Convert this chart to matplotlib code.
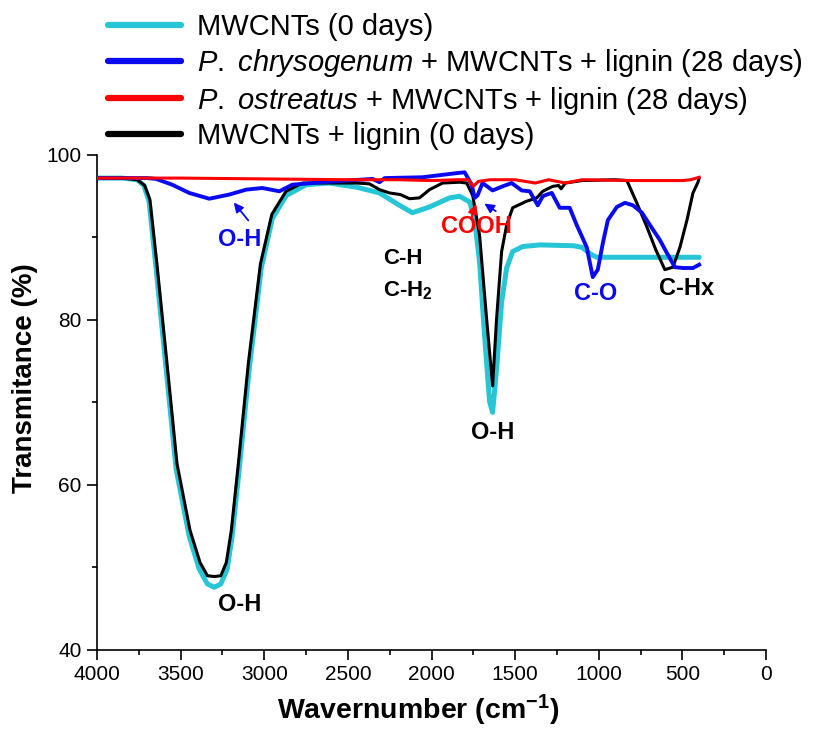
import matplotlib
matplotlib.use("Agg")
import matplotlib.pyplot as plt
from matplotlib.lines import Line2D
from matplotlib.ticker import MultipleLocator

plt.rcParams['font.family'] = ['Liberation Sans', 'DejaVu Sans']
plt.rcParams['mathtext.fontset'] = 'custom'
plt.rcParams['mathtext.rm'] = 'Liberation Sans'
plt.rcParams['mathtext.it'] = 'Liberation Sans:italic'
plt.rcParams['mathtext.bf'] = 'Liberation Sans:bold'

# ---------------- data ----------------
cyan_w = [4000, 3850, 3760, 3720, 3689, 3647, 3587, 3527, 3449, 3389, 3340, 3299, 3260, 3222,
          3192, 3150, 3090, 3018, 2952, 2868, 2749, 2611, 2449, 2311, 2192, 2114, 2012, 1892,
          1832, 1772, 1743, 1713, 1683, 1653, 1635, 1611, 1581, 1551, 1515, 1455, 1353, 1150,
          1100, 1050, 1012, 400]
cyan_t = [97.2, 97.2, 97.0, 96.3, 94.4, 86.3, 74.1, 61.9, 53.8, 49.8, 48.0, 47.6, 48.0, 49.8,
          53.8, 61.9, 74.1, 86.3, 92.3, 95.1, 96.4, 96.6, 96.1, 95.4, 93.9, 93.0, 93.7, 94.8,
          95.0, 94.3, 92.3, 87.1, 78.1, 70.1, 68.8, 74.1, 82.2, 86.3, 88.3, 88.9, 89.1, 89.0,
          88.8, 88.0, 87.6, 87.6]

black_w = [4000, 3850, 3760, 3715, 3684, 3642, 3582, 3522, 3444, 3384, 3340, 3299, 3260, 3227,
           3197, 3155, 3095, 3023, 2955, 2870, 2772, 2652, 2449, 2371, 2311, 2252, 2186, 2132,
           2072, 2012, 1934, 1832, 1790, 1754, 1713, 1671, 1635, 1611, 1581, 1551, 1515, 1431,
           1371, 1335, 1275, 1240, 1225, 1200, 1100, 900, 832, 773, 713, 659, 605, 557, 515,
           473, 437, 407, 400]
black_t = [97.2, 97.2, 97.0, 96.3, 94.6, 86.8, 74.8, 62.6, 54.5, 50.6, 49.0, 48.9, 49.0, 50.6,
           54.5, 62.6, 74.8, 86.8, 92.8, 95.6, 96.6, 96.6, 96.6, 96.5, 95.8, 95.4, 95.2, 94.7,
           94.8, 95.8, 96.6, 96.7, 96.6, 95.1, 90.3, 80.2, 72.0, 80.2, 88.3, 91.5, 93.6, 94.4,
           94.8, 95.6, 96.2, 96.3, 95.9, 96.6, 96.9, 97.0, 96.9, 94.2, 91.3, 88.5, 86.1, 86.4,
           88.8, 92.1, 95.4, 96.7, 97.2]

blue_w = [4000, 3700, 3647, 3551, 3449, 3329, 3210, 3108, 3012, 2910, 2832, 2652, 2353, 2311,
          2280, 2054, 1850, 1802, 1760, 1742, 1725, 1695, 1635, 1575, 1521, 1461, 1413, 1365,
          1335, 1311, 1281, 1234, 1174, 1132, 1096, 1072, 1036, 1006, 976, 946, 892, 844, 796,
          742, 694, 635, 587, 545, 497, 437, 400]
blue_t = [97.2, 97.2, 97.1, 96.4, 95.4, 94.7, 95.2, 95.8, 96.0, 95.6, 96.4, 96.7, 97.1, 96.7,
          97.2, 97.3, 97.8, 97.9, 96.4, 94.8, 95.1, 96.6, 95.7, 96.2, 96.6, 95.7, 95.6, 93.9,
          95.0, 95.2, 95.4, 93.6, 93.6, 91.5, 89.9, 88.8, 85.2, 86.1, 89.3, 92.1, 93.7, 94.2,
          93.9, 93.0, 91.5, 89.7, 87.9, 86.4, 86.3, 86.3, 86.7]

red_w = [4000, 3500, 3000, 2500, 2200, 2000, 1850, 1780, 1750, 1720, 1650, 1500, 1380, 1300,
         1200, 1100, 800, 500, 450, 400]
red_t = [97.2, 97.2, 97.1, 97.0, 97.0, 96.9, 97.0, 97.0, 96.2, 96.8, 97.0, 97.0, 96.6, 97.0,
         96.6, 97.0, 96.9, 96.9, 97.0, 97.3]

labels = ["MWCNTs (0 days)",
          r"$\it{P.}$ $\it{chrysogenum}$ + MWCNTs + lignin (28 days)",
          r"$\it{P.}$ $\it{ostreatus}$ + MWCNTs + lignin (28 days)",
          "MWCNTs + lignin (0 days)"]
colors = ['#26C6D6', '#0A0AF0', '#FF0000', '#000000']

# ---------------- figure ----------------
fig = plt.figure(figsize=(8.14, 7.29), dpi=100)
ax = fig.add_axes([0.1192, 0.1084, 0.8219, 0.679])

ax.plot(cyan_w, cyan_t, color=colors[0], lw=3.6, zorder=2, solid_capstyle='round')
ax.plot(black_w, black_t, color=colors[3], lw=2.2, zorder=3)
ax.plot(blue_w, blue_t, color=colors[1], lw=2.8, zorder=4)
ax.plot(red_w, red_t, color=colors[2], lw=2.2, zorder=5)

ax.set_xlim(4000, 0)
ax.set_ylim(40, 100)
ax.xaxis.set_major_locator(MultipleLocator(500))
ax.xaxis.set_minor_locator(MultipleLocator(250))
ax.yaxis.set_major_locator(MultipleLocator(20))
ax.yaxis.set_minor_locator(MultipleLocator(10))
for s in ['top', 'right']:
    ax.spines[s].set_visible(False)
for s in ['left', 'bottom']:
    ax.spines[s].set_linewidth(1.2)
ax.tick_params(which='major', direction='out', length=7, width=1.2, labelsize=15, pad=4)
ax.tick_params(which='minor', direction='out', length=3.5, width=1.2)

ax.set_xlabel(r"Wavernumber (cm$^{\mathbf{-1}}$)", fontsize=20.5, fontweight='bold')
ax.xaxis.set_label_coords(0.48, -0.086)
ax.set_ylabel("Transmitance (%)", fontsize=20, fontweight='bold')
ax.yaxis.set_label_coords(-0.088, 0.55)

# annotations
fs = 17
ax.text(3145, 89.7, "O-H", color=colors[1], fontsize=fs, fontweight='bold', ha='center', va='center')
ax.annotate("", xy=(3193, 94.5), xytext=(3085, 91.8),
            arrowprops=dict(arrowstyle='-|>', color=colors[1], lw=1.3, mutation_scale=14))
ax.text(1734, 91.3, "COOH", color=colors[2], fontsize=fs, fontweight='bold', ha='center', va='center', zorder=6)
ax.annotate("", xy=(1728, 94.4), xytext=(1770, 91.9),
            arrowprops=dict(arrowstyle='-|>', color=colors[2], lw=1.5, mutation_scale=14), zorder=6)
ax.annotate("", xy=(1698, 94.3), xytext=(1602, 93.0),
            arrowprops=dict(arrowstyle='-|>', color=colors[1], lw=1.3, mutation_scale=14), zorder=6)
ax.text(2290, 87.5, "C-H", color='black', fontsize=fs - 1, fontweight='bold', ha='left', va='center')
ax.text(2290, 83.6, r"C-H$_{\mathbf{2}}$", color='black', fontsize=fs - 1, fontweight='bold', ha='left', va='center')
ax.text(1632, 66.4, "O-H", color='black', fontsize=fs, fontweight='bold', ha='center', va='center')
ax.text(1016, 83.2, "C-O", color=colors[1], fontsize=fs, fontweight='bold', ha='center', va='center')
ax.text(478, 83.8, "C-Hx", color='black', fontsize=fs, fontweight='bold', ha='center', va='center')
ax.text(3145, 45.5, "O-H", color='black', fontsize=fs, fontweight='bold', ha='center', va='center')

handles = [Line2D([], [], color=c, lw=4.5, solid_capstyle='round') for c in colors]
fig.legend(handles, labels, loc='upper left', bbox_to_anchor=(108 / 814, 1 - 13 / 729),
           frameon=False, fontsize=21, handlelength=2.5, handletextpad=0.55,
           labelspacing=0.2, borderpad=0, borderaxespad=0)

fig.savefig("out.png", dpi=100)
